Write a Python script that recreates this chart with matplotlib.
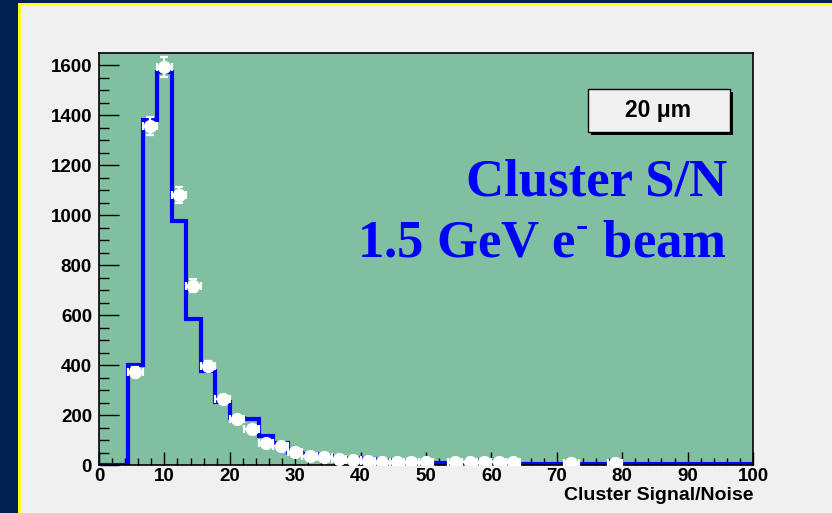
import matplotlib
matplotlib.use("Agg")
import matplotlib.pyplot as plt
from matplotlib.patches import Rectangle
from matplotlib.ticker import MultipleLocator
import numpy as np

# histogram (simulation) contents, 45 bins from 0 to 100
bin_edges = np.linspace(0, 100, 46)
hist_counts = [0, 0, 400, 1380, 1571, 976, 584, 376, 253, 188,
               185, 116, 88, 50, 45, 35, 30, 28, 24, 20,
               15, 12, 10, 8, 6, 6, 5, 5, 4, 6,
               5, 5, 4, 3, 3, 4, 3, 3, 4, 3,
               3, 3, 4, 3, 3]

# data points (white markers), same binning
data_counts = [0, 0, 373, 1356, 1591, 1080, 717, 397, 265, 184,
               144, 89, 76, 52, 36, 33, 25, 20, 15, 12,
               12, 12, 12, 0, 12, 12, 12, 12, 12, 0,
               0, 0, 10, 0, 0, 10, 0, 0, 0, 0,
               0, 0, 0, 0, 0]

y_ticks = [0, 200, 400, 600, 800, 1000, 1200, 1400, 1600]
x_ticks = [0, 10, 20, 30, 40, 50, 60, 70, 80, 90, 100]

navy = "#02204f"
panel = "#f0f0f0"
green = "#80c0a0"
blue = "#0000ff"

plt.rcParams["mathtext.fontset"] = "custom"
plt.rcParams["mathtext.rm"] = "Liberation Serif:bold"
plt.rcParams["mathtext.bf"] = "Liberation Serif:bold"

W, H = 832, 513
fig = plt.figure(figsize=(W / 100, H / 100), dpi=100, facecolor=navy)

# yellow border and light panel
fig.patches.append(Rectangle((18 / W, 0), 1, (H - 3) / H, transform=fig.transFigure,
                             facecolor="#ffff20", edgecolor="none", zorder=-2))
fig.patches.append(Rectangle((21 / W, 0), 1, (H - 5) / H, transform=fig.transFigure,
                             facecolor=panel, edgecolor="none", zorder=-1))

ax = fig.add_axes([99 / W, (H - 465) / H, (753 - 99) / W, (465 - 53) / H])
ax.set_zorder(1)
ax.set_facecolor(green)

edges = np.array(bin_edges)
centers = 0.5 * (edges[:-1] + edges[1:])
half = 0.5 * (edges[1] - edges[0])
dc = np.array(data_counts, dtype=float)
mask = dc > 0

ax.stairs(hist_counts, edges, color=blue, lw=3.0, zorder=2)
ax.errorbar(centers[mask], dc[mask], xerr=half, yerr=np.sqrt(dc[mask]),
            fmt="o", color="white", ms=8.5, mec="white", elinewidth=1.6,
            capsize=3, capthick=1.6, zorder=3)

ax.set_xlim(0, 100)
ax.set_ylim(0, 1648)
ax.set_xticks(x_ticks)
ax.set_yticks(y_ticks)
ax.xaxis.set_minor_locator(MultipleLocator(2))
ax.yaxis.set_minor_locator(MultipleLocator(50))
ax.tick_params(axis="x", which="major", direction="in", length=9.5, width=1, pad=2)
ax.tick_params(axis="x", which="minor", direction="in", length=4.8, width=1)
ax.tick_params(axis="y", which="major", direction="in", length=14.4, width=1, pad=5)
ax.tick_params(axis="y", which="minor", direction="in", length=7.2, width=1)
for lab in ax.get_xticklabels() + ax.get_yticklabels():
    lab.set_fontfamily("Liberation Sans")
    lab.set_fontweight("bold")
    lab.set_fontsize(13.5)
for sp in ax.spines.values():
    sp.set_linewidth(1.2)

ax.set_xlabel("Cluster Signal/Noise", fontfamily="Liberation Sans",
              fontweight="bold", fontsize=14)
ax.xaxis.set_label_coords(1.0, -0.053)
ax.xaxis.label.set_horizontalalignment("right")

# legend-like box with shadow
fig.patches.append(Rectangle((591 / W, (H - 135) / H), 142 / W, 43 / H,
                             transform=fig.transFigure, facecolor="black",
                             edgecolor="none", zorder=5))
fig.patches.append(Rectangle((588 / W, (H - 132) / H), 142 / W, 43 / H,
                             transform=fig.transFigure, facecolor=panel,
                             edgecolor="black", lw=1, zorder=6))
fig.text(658 / W, (H - 111) / H, "20 \u03bcm", ha="center", va="center",
         fontfamily="Liberation Sans", fontweight="bold", fontsize=16.5, zorder=7)

ax.text(0.96, 0.653, "Cluster S/N", transform=ax.transAxes, ha="right",
        va="baseline", color=blue, fontfamily="Liberation Serif",
        fontweight="bold", fontsize=38)
ax.text(0.96, 0.507, r"1.5 GeV e$^{\text{-}}$ beam", transform=ax.transAxes,
        ha="right", va="baseline", color=blue, fontfamily="Liberation Serif",
        fontweight="bold", fontsize=38)

fig.savefig("out.png", dpi=100, facecolor=navy)
